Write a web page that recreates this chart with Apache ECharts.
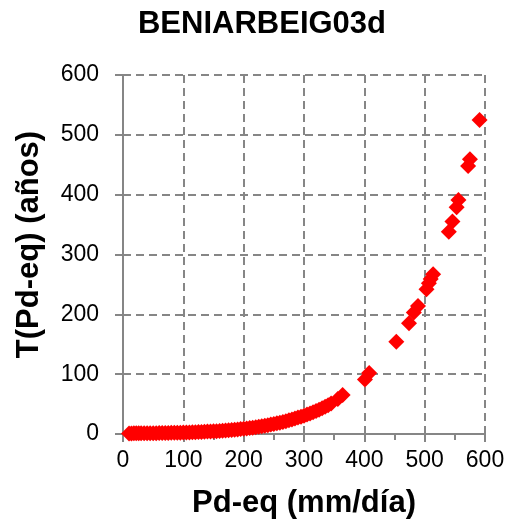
<!DOCTYPE html>
<html>
<head>
<meta charset="utf-8">
<script src="https://cdn.jsdelivr.net/npm/echarts@6/dist/echarts.min.js"></script>
<style>html,body{margin:0;padding:0;background:#fff;}#c{width:511px;height:528px;}</style>
</head>
<body>
<div id="c"></div>
<script>
var titleText = 'BENIARBEIG03d';
var xName = 'Pd-eq (mm/día)';
var yName = 'T(Pd-eq) (años)';
var pdEq = [10,14,18,22,26,30,35,40,45,50,55,60,65,70,75,80,85,90,95,100,105,110,115,120,125,130,135,140,145,150,155,160,165,170,175,180,185,190,195,200,205,210,215,220,225,230,235,240,245,250,255,260,265,270,275,280,285,290,295,300,305,310,315,320,325,330,335,340,345,356,364,401,408,453,474,482,489,503,507,510,514,540,546,553,556,572,575,591];
var retPeriod = [1.0,1.0,1.05,1.1,1.1,1.15,1.2,1.25,1.3,1.4,1.45,1.5,1.6,1.7,1.8,1.9,2.0,2.1,2.2,2.4,2.5,2.7,2.9,3.1,3.3,3.5,3.7,4.0,4.2,4.5,4.8,5.1,5.5,5.9,6.3,6.7,7.2,7.7,8.2,8.7,9.3,9.9,10.6,11.3,12.1,12.9,13.8,14.7,15.7,16.7,17.8,19,20.2,21.5,22.9,24.3,25.8,27.4,29,30.7,32.5,34.4,36.4,38.5,40.7,43,45.5,48,51,58.5,65,91,102,154,185,203,214,242,252,259,267,338,355,379,391,448,459,525];

var data = pdEq.map(function(x,i){return [x, retPeriod[i]];});
var axisGray = '#868686';
var font = 'Liberation Sans, Arial, sans-serif';
var chart = echarts.init(document.getElementById('c'), null, {renderer:'canvas'});
chart.setOption({
  animation:false,
  backgroundColor:'#fff',
  title:{text:titleText, left:257, top:4, textAlign:'center',
    textStyle:{fontFamily:font, fontWeight:'bold', fontSize:31, color:'#000'}},
  grid:{left:123, top:75, right:26, bottom:94, containLabel:false},
  xAxis:[{
    type:'value', min:0, max:600, interval:100,
    name:xName, nameLocation:'middle', nameGap:54,
    nameTextStyle:{fontFamily:font, fontWeight:'bold', fontSize:31, color:'#000'},
    axisLine:{show:true, onZero:false, lineStyle:{color:axisGray, width:2}},
    axisTick:{show:true, inside:false, length:8, lineStyle:{color:axisGray, width:2}},
    minorTick:{show:true, splitNumber:2, length:6, lineStyle:{color:axisGray, width:2}},
    axisLabel:{margin:15, fontFamily:font, fontSize:23, color:'#000'},
    splitLine:{show:true, lineStyle:{color:axisGray, width:2, type:[8,5]}}
  },{
    type:'value', min:0, max:600, interval:100, position:'bottom',
    axisLine:{show:false}, axisLabel:{show:false}, splitLine:{show:false},
    axisTick:{show:true, inside:true, length:8, lineStyle:{color:axisGray, width:2}}
  }],
  yAxis:[{
    type:'value', min:0, max:600, interval:100,
    name:yName, nameLocation:'middle', nameGap:78, nameRotate:90,
    nameTextStyle:{fontFamily:font, fontWeight:'bold', fontSize:31, color:'#000', padding:[0,0,0,20]},
    axisLine:{show:true, onZero:false, lineStyle:{color:axisGray, width:2}},
    axisTick:{show:true, inside:false, length:8, lineStyle:{color:axisGray, width:2}},
    axisLabel:{margin:24, fontFamily:font, fontSize:23, color:'#000'},
    splitLine:{show:true, lineStyle:{color:axisGray, width:2, type:[8,5]}}
  },{
    type:'value', min:0, max:600, interval:100, position:'left',
    axisLine:{show:false}, axisLabel:{show:false}, splitLine:{show:false},
    axisTick:{show:true, inside:true, length:8, lineStyle:{color:axisGray, width:2}}
  }],
  series:[{
    type:'scatter', xAxisIndex:0, yAxisIndex:0,
    symbol:'diamond', symbolSize:[16,16],
    itemStyle:{color:'#FF0000', opacity:1},
    data:data
  }]
});
</script>
</body>
</html>
